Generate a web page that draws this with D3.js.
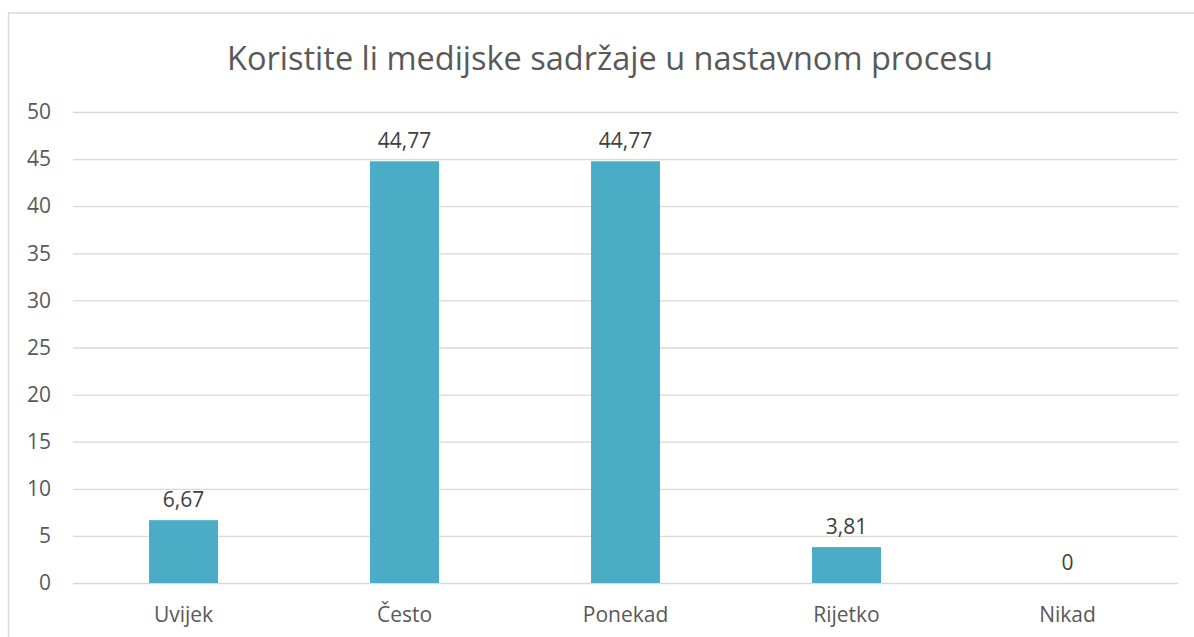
<!DOCTYPE html>
<html>
<head>
<meta charset="utf-8">
<script src="https://cdn.jsdelivr.net/npm/d3@7"></script>
<style>
  body { margin: 0; background: #fff; }
  svg { display: block; font-family: "Open Sans", Lato, sans-serif; }
</style>
</head>
<body>
<svg id="chart" width="1194" height="637"></svg>
<script>
// data
var kategorije = ["Uvijek", "Često", "Ponekad", "Rijetko", "Nikad"]
var vrijednosti = [6.67, 44.77, 44.77, 3.81, 0]
var yTicks = [0, 5, 10, 15, 20, 25, 30, 35, 40, 45, 50]
var naslov = "Koristite li medijske sadržaje u nastavnom procesu"

var dados = kategorije.map(function (k, i) { return {name: k, value: vrijednosti[i]} })

var margin = {top: 112, right: 16, bottom: 54, left: 73},
    width = 1194 - margin.left - margin.right,
    height = 637 - margin.top - margin.bottom

const svg = d3.select("#chart")

// outer frame of the chart area
svg.append("rect")
    .attr("x", 8.5)
    .attr("y", 13)
    .attr("width", 1300)
    .attr("height", 700)
    .attr("fill", "white")
    .attr("stroke", "#d9d9d9")
    .attr("stroke-width", 1.5)

// title
svg.append("text")
    .attr("x", 610)
    .attr("y", 70)
    .attr("text-anchor", "middle")
    .attr("fill", "#595959")
    .style("font-size", "32.5px")
    .text(naslov)

const chart = svg.append("g")
    .attr("transform", "translate(" + margin.left + "," + margin.top + ")")

const x = d3.scaleBand()
    .range([0, width])
    .domain(kategorije)

const y = d3.scaleLinear()
    .range([height, 0])
    .domain([0, 50])

/*grid*/
chart.append("g")
    .attr("class", "grid")
    .call(d3.axisLeft(y)
        .tickValues(yTicks)
        .tickSize(-width)
        .tickFormat("")
    )
    .call(g => g.select(".domain").remove())
    .call(g => g.selectAll("line").attr("stroke", "#d9d9d9").attr("stroke-width", 1.3))

/*y axis labels*/
chart.append("g")
    .attr("transform", "translate(-22,0)")
    .call(d3.axisLeft(y)
        .tickValues(yTicks)
        .tickSize(0)
        .tickPadding(0)
    )
    .call(g => g.select(".domain").remove())
    .call(g => g.selectAll("text")
        .attr("fill", "#595959")
        .style("font-size", "21px")
        .style("font-family", "'Open Sans', Lato, sans-serif"))

/*x axis labels*/
chart.append("g")
    .attr("transform", `translate(0, ${height})`)
    .call(d3.axisBottom(x)
        .tickSize(0)
        .tickPadding(24)
    )
    .call(g => g.select(".domain").remove())
    .call(g => g.selectAll("text")
        .attr("fill", "#595959")
        .style("font-size", "21px")
        .style("font-family", "'Open Sans', Lato, sans-serif"))

var barW = x.bandwidth() * 0.312

// bars
chart.selectAll("rect.bar")
    .data(dados)
    .enter()
    .append("rect")
        .attr("class", "bar")
        .attr("fill", "#4bacc6")
        .attr("x", d => x(d.name) + x.bandwidth() / 2 - barW / 2)
        .attr("y", d => y(d.value))
        .attr("width", barW)
        .attr("height", d => height - y(d.value))

// valores
chart.selectAll("text.value")
    .data(dados)
    .enter()
    .append("text")
        .attr("class", "value")
        .attr("fill", "#404040")
        .attr("x", d => x(d.name) + x.bandwidth() / 2)
        .attr("y", d => y(d.value) - 13)
        .attr("text-anchor", "middle")
        .style("font-size", "21px")
        .text(d => d.value.toLocaleString("hr-HR"))
</script>
</body>
</html>
